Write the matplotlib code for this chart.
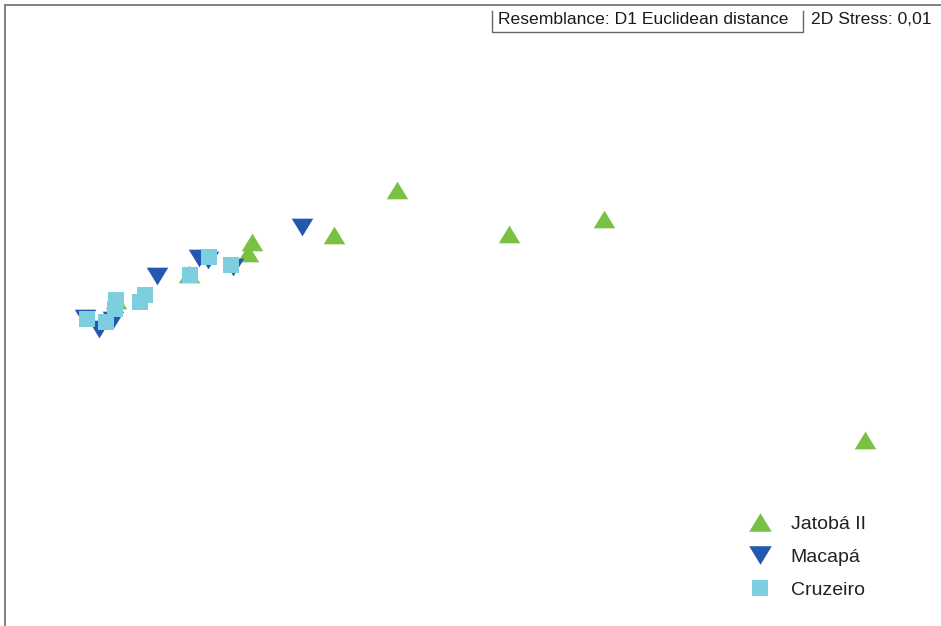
import matplotlib
matplotlib.use("Agg")
import matplotlib.pyplot as plt
from matplotlib.lines import Line2D

plt.rcParams['font.family'] = ['Liberation Sans', 'DejaVu Sans']

# nMDS coordinates (arbitrary units)
jatoba_x = [-0.73, -1.36, 0.39, 1.34, 3.95, -2.18, -2.22, -2.81, -3.54]
jatoba_y = [1.23, 0.78, 0.79, 0.94, -1.27, 0.71, 0.60, 0.39, 0.13]

macapa_x = [-1.68, -3.13, -2.71, -2.62, -2.37, -3.85, -3.71, -3.57]
macapa_y = [0.86, 0.37, 0.55, 0.53, 0.46, -0.05, -0.16, -0.07]

cruzeiro_x = [-3.83, -3.64, -3.54, -3.55, -3.25, -3.30, -2.80, -2.61, -2.39]
cruzeiro_y = [-0.06, -0.09, 0.13, 0.04, 0.18, 0.11, 0.38, 0.56, 0.48]

labels = ["Jatobá II", "Macapá", "Cruzeiro"]
resemblance_text = "Resemblance: D1 Euclidean distance"
stress_text = "2D Stress: 0,01"

GREEN = "#7ac143"
BLUE = "#2258b0"
CYAN = "#7dcfdf"

# wide, flat triangles as in PRIMER plots
TRI_UP = [(-1, -0.82), (1, -0.82), (0, 0.82), (-1, -0.82)]
TRI_DOWN = [(-1, 0.82), (1, 0.82), (0, -0.82), (-1, 0.82)]

W, H = 941, 626
fig = plt.figure(figsize=(W / 100, H / 100), dpi=100)
ax = fig.add_axes([5 / W, 0, (W - 5) / W, (H - 5) / H])
ax.set_xlim(-4.65, 4.71)
ax.set_ylim(-3.13, 3.08)
ax.set_xticks([])
ax.set_yticks([])
for s in ["right", "bottom"]:
    ax.spines[s].set_visible(False)
for s in ["left", "top"]:
    ax.spines[s].set_color("#808080")
    ax.spines[s].set_linewidth(1.4)

h1, = ax.plot(jatoba_x, jatoba_y, linestyle="none", marker=TRI_UP, ms=15.5,
              color=GREEN, mew=0, label=labels[0])
h2, = ax.plot(macapa_x, macapa_y, linestyle="none", marker=TRI_DOWN, ms=15.5,
              color=BLUE, mew=0, label=labels[1])
h3, = ax.plot(cruzeiro_x, cruzeiro_y, linestyle="none", marker="s", ms=11,
              color=CYAN, mew=0, label=labels[2])

leg = ax.legend(handles=[h1, h2, h3], loc="upper left",
                bbox_to_anchor=(748 / W, 1 - 515 / H), bbox_transform=fig.transFigure,
                frameon=False, fontsize=14, markerscale=1.05,
                handlelength=1.2, handletextpad=1.0, labelspacing=0.8,
                borderpad=0, borderaxespad=0)
for t in leg.get_texts():
    t.set_color("#222222")

# header texts
fig.text(498 / W, 1 - 20 / H, resemblance_text, fontsize=12.6, color="#1a1a1a",
         ha="left", va="center")
fig.text(811 / W, 1 - 20 / H, stress_text, fontsize=12.6, color="#1a1a1a",
         ha="left", va="center")
box_x = [492 / W, 492 / W, 803 / W, 803 / W]
box_y = [1 - 11 / H, 1 - 32 / H, 1 - 32 / H, 1 - 11 / H]
fig.add_artist(Line2D(box_x, box_y, transform=fig.transFigure, color="#666666", lw=1.0))

fig.savefig("out.png", dpi=100)
